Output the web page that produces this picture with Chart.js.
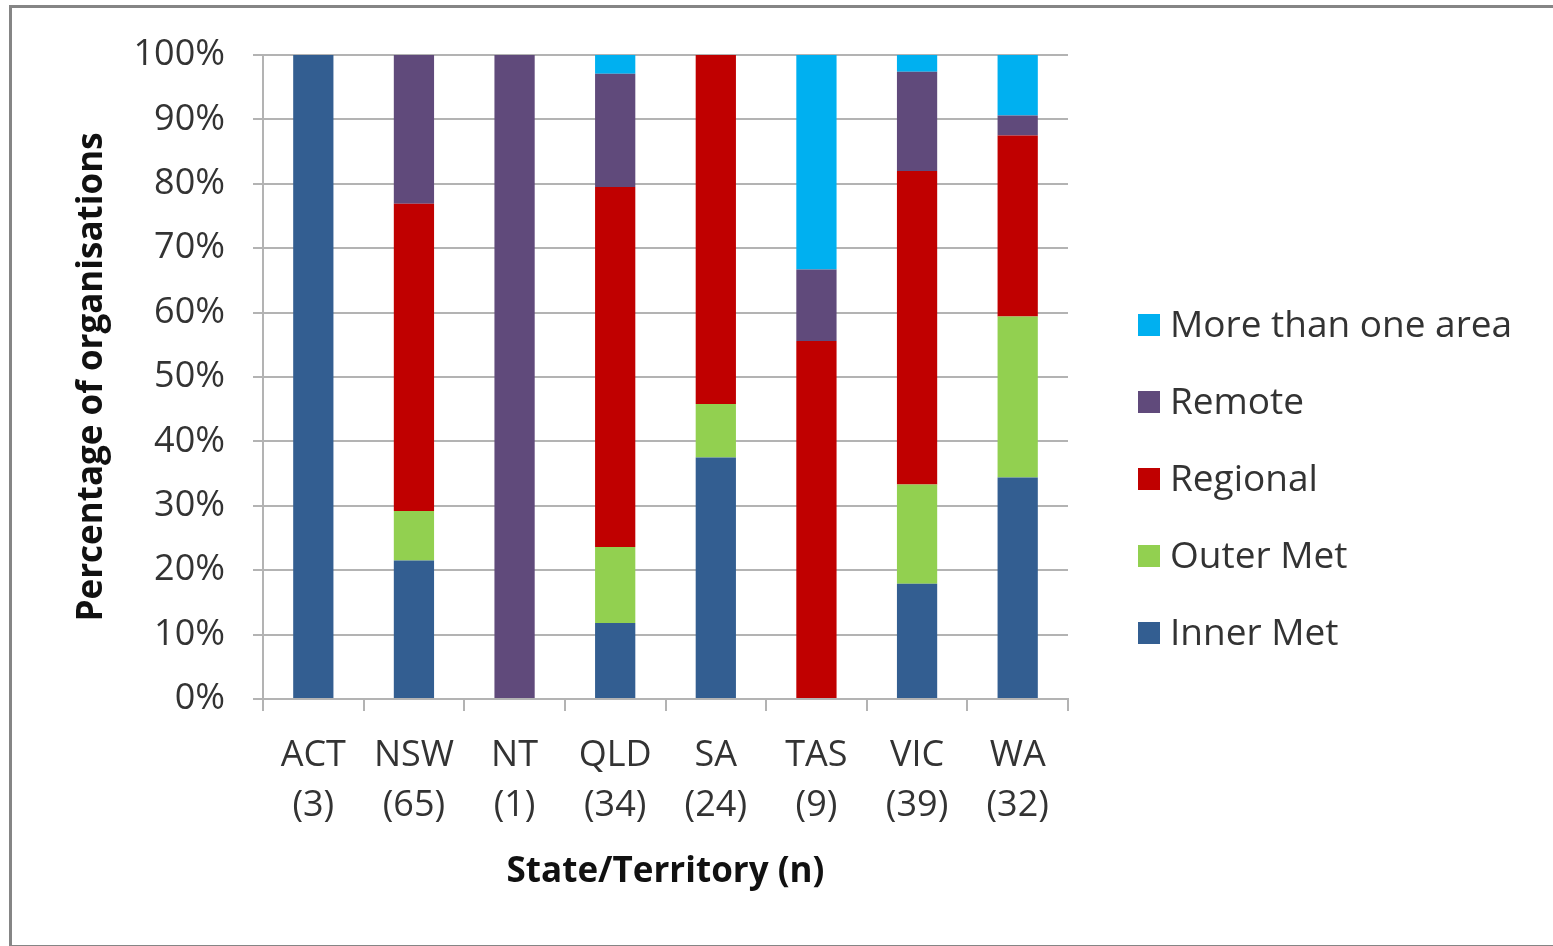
<!DOCTYPE html>
<html>
<head>
<meta charset="utf-8">
<script src="https://cdn.jsdelivr.net/npm/chart.js@4"></script>
<style>
  html, body { margin: 0; padding: 0; background: #fff; overflow: hidden; }
  #frame { position: absolute; left: 9px; top: 5px; width: 1600px; height: 937px; border: 3px solid #858585; }
  #wrap { position: absolute; left: 0; top: 0; width: 1553px; height: 946px; }
</style>
</head>
<body>
<div id="frame"></div>
<div id="wrap"><canvas id="myChart"></canvas></div>
<script>
// states and number of organisations (n)
const states = ["ACT", "NSW", "NT", "QLD", "SA", "TAS", "VIC", "WA"];
const counts = [3, 65, 1, 34, 24, 9, 39, 32];

// percentage of organisations by area
const innerMet = [100, 21.5, 0, 11.8, 37.5, 0, 17.9, 34.4];
const outerMet = [0, 7.7, 0, 11.8, 8.3, 0, 15.4, 25.0];
const regional = [0, 47.7, 0, 55.9, 54.2, 55.6, 48.7, 28.1];
const remote = [0, 23.1, 100, 17.6, 0, 11.1, 15.4, 3.1];
const moreThanOne = [0, 0, 0, 2.9, 0, 33.3, 2.6, 9.4];

const yTicks = [0, 10, 20, 30, 40, 50, 60, 70, 80, 90, 100];

const labels = states.map((s, i) => [s, '(' + counts[i] + ')']);
const FONT = '"Open Sans", "DejaVu Sans", sans-serif';

// legend drawn to the right of the plot, top entry first
const sideLegend = {
  id: 'sideLegend',
  afterDraw(chart) {
    const ctx = chart.ctx;
    const x = chart.chartArea.right + 70;
    ctx.save();
    ctx.font = '37px ' + FONT;
    ctx.textBaseline = 'middle';
    chart.data.datasets.slice().reverse().forEach((ds, i) => {
      const y = 325 + i * 77;
      ctx.fillStyle = ds.backgroundColor;
      ctx.fillRect(x, y - 11, 22, 22);
      ctx.fillStyle = '#333';
      ctx.fillText(ds.label, x + 32, y + 1);
    });
    ctx.restore();
  }
};

new Chart(document.getElementById("myChart").getContext('2d'), {
  type: 'bar',
  data: {
    labels: labels,
    datasets: [
      { label: 'Inner Met', data: innerMet, backgroundColor: '#335e91' },
      { label: 'Outer Met', data: outerMet, backgroundColor: '#92d050' },
      { label: 'Regional', data: regional, backgroundColor: '#c00000' },
      { label: 'Remote', data: remote, backgroundColor: '#604a7b' },
      { label: 'More than one area', data: moreThanOne, backgroundColor: '#00b0f0' }
    ]
  },
  options: {
    responsive: true,
    maintainAspectRatio: false,
    animation: false,
    layout: { padding: { left: 71, top: 55, right: 485, bottom: 53 } },
    datasets: { bar: { barPercentage: 0.4, categoryPercentage: 1.0 } },
    plugins: {
      legend: { display: false },
      tooltip: { enabled: false }
    },
    scales: {
      x: {
        stacked: true,
        afterFit(scale) { scale.height = 194; },
        grid: { drawOnChartArea: false, drawTicks: true, tickLength: 12, color: '#b3b3b3', lineWidth: 2, offset: true },
        border: { display: true, color: '#b3b3b3', width: 2 },
        ticks: { color: '#333', font: { family: FONT, size: 36, lineHeight: 1.39 }, padding: 20, maxRotation: 0 },
        title: { display: true, text: 'State/Territory (n)', color: '#111', font: { family: FONT, size: 35, weight: 'bold', lineHeight: 1.2 }, padding: 0 }
      },
      y: {
        stacked: true,
        min: 0,
        max: 100,
        afterFit(scale) { scale.width = 192; },
        afterBuildTicks(scale) { scale.ticks = yTicks.map(v => ({ value: v })); },
        grid: { color: '#b3b3b3', lineWidth: 2, tickLength: 10 },
        border: { display: true, color: '#b3b3b3', width: 2 },
        ticks: { color: '#333', font: { family: FONT, size: 36 }, padding: 28, callback: v => v + '%' },
        title: { display: true, text: 'Percentage of organisations', color: '#111', font: { family: FONT, size: 35, weight: 'bold', lineHeight: 1.2 }, padding: 0 }
      }
    }
  },
  plugins: [sideLegend]
});
</script>
</body>
</html>
